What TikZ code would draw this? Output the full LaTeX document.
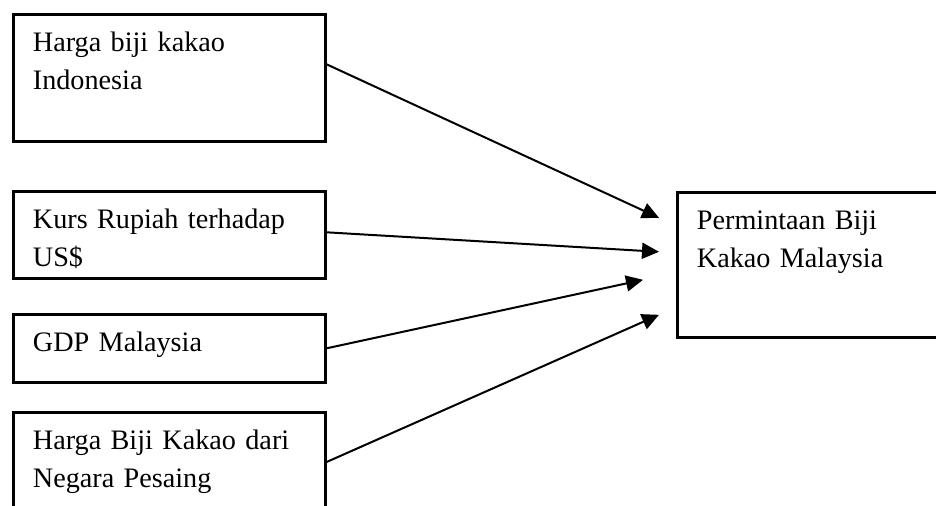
\documentclass[tikz,border=0pt]{standalone}
\usepackage{fontspec}
\setmainfont{Liberation Serif}
\usetikzlibrary{arrows.meta}

\tikzset{
  faktor/.style={draw, line width=1.3pt, anchor=north west, align=left,
    text width=136.4pt, inner xsep=9.8pt, inner ysep=0pt, text height=18.5pt,
    font=\fontsize{14.1pt}{19pt}\selectfont},
  panah/.style={line width=1pt, -{Triangle[length=8.5pt,width=8pt]}}
}

\begin{document}
\begin{tikzpicture}[x=0.5pt, y=-0.5pt]
\useasboundingbox (0,0) rectangle (936,505);
\clip (0,0) rectangle (936,505);
% faktor-faktor (kiri)
\node[faktor, text depth=45pt] (hargaIndo) at (12,13) {Harga biji kakao\\Indonesia};
\node[faktor, text depth=25pt] (kurs) at (12,190) {Kurs Rupiah terhadap\\US\$};
\node[faktor, text depth=15.5pt] (gdp) at (12,313) {GDP Malaysia};
\node[faktor, text depth=60pt] (pesaing) at (12,411) {Harga Biji Kakao dari\\Negara Pesaing};
% permintaan (kanan)
\node[faktor, text width=140pt, text depth=54pt] (permintaan) at (676,191) {Permintaan Biji\\Kakao Malaysia};
% panah
\draw[panah] ([yshift=6.75pt]hargaIndo.east) -- ([xshift=-8.5pt,yshift=23.5pt]permintaan.west);
\draw[panah] ([yshift=1.25pt]kurs.east) -- ([xshift=-8.5pt,yshift=6.5pt]permintaan.west);
\draw[panah] (gdp.east) -- ([xshift=-16.5pt,yshift=-7.5pt]permintaan.west);
\draw[panah] ([yshift=-25.5pt]pesaing.north east) -- ([xshift=-8.5pt,yshift=-25pt]permintaan.west);
\end{tikzpicture}
\end{document}
